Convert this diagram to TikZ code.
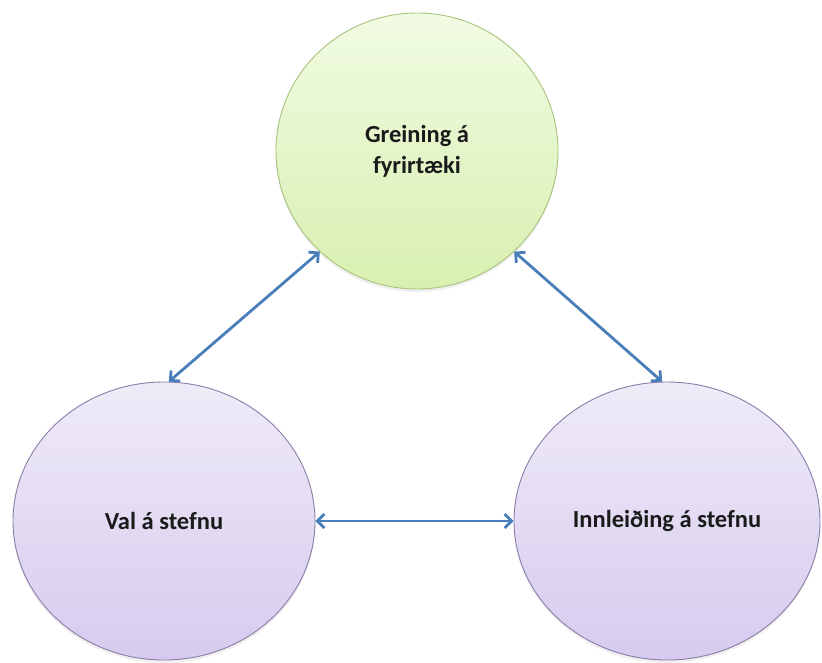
\documentclass[tikz,border=0pt]{standalone}
\usepackage{fontspec}
\setmainfont{Carlito}
\usetikzlibrary{shapes.geometric,arrows.meta,shadows}
\definecolor{greenTop}{HTML}{F1FBE3}
\definecolor{greenBot}{HTML}{D8F0B0}
\definecolor{greenEdge}{HTML}{A9C27C}
\definecolor{purpTop}{HTML}{EFEBF8}
\definecolor{purpBot}{HTML}{D6CBEE}
\definecolor{purpEdge}{HTML}{8A7CA8}
\definecolor{arrowBlue}{HTML}{4A7EBB}
\definecolor{txt}{HTML}{1A1A1A}
\tikzset{
  bubble/.style={ellipse, inner sep=0pt, line width=0.9pt, align=center,
    font=\bfseries\fontsize{24.5}{31}\selectfont, text=txt,
    drop shadow={shadow xshift=0pt, shadow yshift=-3pt, opacity=0.12}},
  greenbubble/.style={bubble, draw=greenEdge, top color=greenTop, bottom color=greenBot},
  purplebubble/.style={bubble, draw=purpEdge, top color=purpTop, bottom color=purpBot},
  link/.style={draw=arrowBlue, line width=2.8pt,
    {Straight Barb[length=7pt,width=14pt]}-{Straight Barb[length=7pt,width=14pt]}}
}
\begin{document}
\begin{tikzpicture}[x=1pt,y=-1pt]
\useasboundingbox (0,0) rectangle (822,662);
\node[greenbubble, minimum width=282pt, minimum height=276pt] (top) at (417,151) {\raisebox{-8pt}{\shortstack{Greining á\\[7pt]fyrirtæki}}};
\node[purplebubble, minimum width=302pt, minimum height=278pt] (left) at (164,521) {Val á stefnu};
\node[purplebubble, minimum width=306pt, minimum height=278pt] (right) at (667,521) {Innleiðing á stefnu};
\draw[link] (top.226) -- (left.88);
\draw[link] (top.314) -- (right.92);
\draw[link] (left.east) -- (right.west);
\end{tikzpicture}
\end{document}
